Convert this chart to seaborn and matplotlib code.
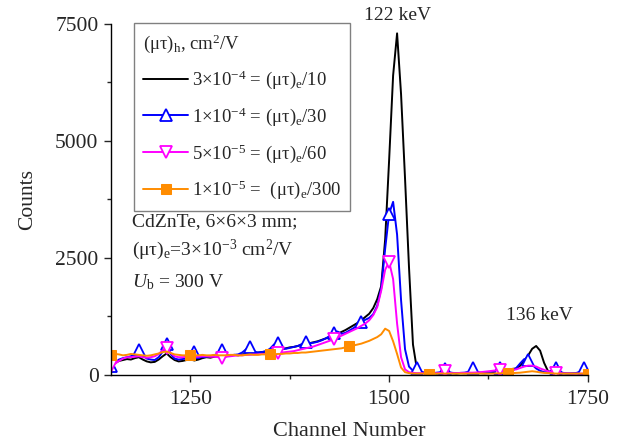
import numpy as np
import pandas as pd
import matplotlib
matplotlib.use("Agg")
import matplotlib.pyplot as plt
import seaborn as sns

# Channel grid (5-channel bins)
channels = list(range(1150, 1751, 5))

# (mu tau)_h = 3e-4
counts_black = [
    230, 260, 300, 320, 340, 330, 360, 380, 330, 290,
    270, 280, 330, 400, 460, 380, 320, 290, 300, 320,
    330, 310, 330, 360, 380, 370, 390, 400, 410, 400,
    420, 430, 420, 440, 450, 460, 470, 480, 490, 500,
    510, 520, 540, 550, 570, 590, 600, 620, 640, 660,
    680, 700, 720, 750, 780, 810, 850, 880, 920, 960,
    1010, 1060, 1110, 1170, 1240, 1310, 1430, 1620, 1900, 2900,
    4600, 6400, 7300, 6000, 4200, 2300, 650, 120, 50, 40,
    35, 40, 30, 35, 40, 45, 35, 30, 40, 35,
    40, 35, 45, 40, 35, 40, 45, 50, 60, 80,
    110, 130, 140, 200, 300, 420, 560, 620, 520, 260,
    80, 40, 35, 30, 35, 30, 30, 35, 30, 30,
    30,
]

# (mu tau)_h = 1e-4
counts_blue = [
    200, 260, 330, 360, 380, 400, 450, 530, 420, 350,
    330, 320, 380, 500, 660, 450, 350, 330, 340, 360,
    420, 490, 400, 380, 390, 400, 420, 470, 530, 440,
    420, 430, 440, 480, 550, 600, 500, 480, 490, 510,
    560, 650, 680, 580, 560, 580, 600, 620, 660, 700,
    680, 690, 710, 740, 780, 830, 900, 930, 880, 900,
    950, 1000, 1060, 1140, 1180, 1220, 1300, 1480, 1850, 2700,
    3450, 3700, 3000, 1600, 550, 180, 90, 150, 70, 50,
    40, 40, 50, 60, 130, 60, 45, 40, 45, 50,
    70, 160, 70, 50, 50, 55, 70, 90, 140, 80,
    70, 90, 150, 250, 340, 330, 220, 140, 90, 60,
    60, 100, 140, 70, 40, 35, 35, 40, 70, 140,
    50,
]

# (mu tau)_h = 5e-5
counts_magenta = [
    190, 240, 300, 350, 380, 380, 390, 400, 380, 370,
    380, 400, 450, 530, 580, 470, 400, 380, 380, 390,
    400, 390, 390, 400, 400, 390, 390, 380, 370, 390,
    400, 410, 420, 420, 430, 430, 440, 440, 450, 450,
    460, 470, 460, 480, 490, 500, 510, 530, 550, 570,
    590, 610, 640, 670, 700, 730, 760, 800, 840, 880,
    920, 960, 1000, 1050, 1100, 1170, 1280, 1450, 1800, 2250,
    2420, 2050, 1100, 380, 120, 60, 45, 40, 40, 35,
    35, 40, 40, 45, 90, 45, 40, 40, 45, 45,
    50, 50, 55, 60, 70, 80, 90, 100, 110, 100,
    100, 110, 120, 150, 180, 200, 200, 180, 140, 110,
    80, 60, 50, 40, 35, 35, 30, 30, 30, 30,
    30,
]

# (mu tau)_h = 1e-5
counts_orange = [
    430, 450, 440, 420, 430, 450, 440, 430, 420, 410,
    420, 440, 460, 490, 500, 470, 440, 430, 420, 420,
    430, 420, 420, 430, 420, 420, 430, 420, 420, 420,
    430, 430, 420, 420, 430, 440, 430, 430, 440, 440,
    450, 440, 450, 450, 460, 460, 470, 470, 480, 480,
    490, 500, 510, 520, 530, 540, 550, 560, 570, 590,
    610, 630, 650, 670, 700, 730, 770, 810, 870, 990,
    940, 720, 450, 160, 60, 40, 30, 30, 30, 30,
    30, 30, 30, 30, 30, 30, 30, 30, 30, 30,
    30, 30, 30, 30, 30, 30, 30, 35, 35, 40,
    40, 40, 45, 50, 60, 70, 80, 70, 55, 45,
    40, 35, 30, 30, 30, 30, 30, 30, 30, 30,
    30,
]

series_labels = [
    r"3×10$^{-4}$ = (μτ)$_{\mathrm{e}}$/10",
    r"1×10$^{-4}$ = (μτ)$_{\mathrm{e}}$/30",
    r"5×10$^{-5}$ = (μτ)$_{\mathrm{e}}$/60",
    r"1×10$^{-5}$ =  (μτ)$_{\mathrm{e}}$/300",
]

sns.set_style("ticks")
plt.rcParams["font.family"] = ["Liberation Serif", "DejaVu Serif"]
plt.rcParams["mathtext.fontset"] = "custom"
plt.rcParams["mathtext.rm"] = "Liberation Serif"
plt.rcParams["mathtext.it"] = "Liberation Serif:italic"
plt.rcParams["mathtext.bf"] = "Liberation Serif:bold"
plt.rcParams["font.size"] = 13.5

fig = plt.figure(figsize=(6.22, 4.42), dpi=100)
ax = fig.add_axes([0.1785, 0.1516, 0.7665, 0.7941])

styles = [
    dict(color="black", marker=None),
    dict(color="#0000ff", marker="^", markevery=7, markersize=8,
         markerfacecolor="white", markeredgecolor="#0000ff", markeredgewidth=1.3),
    dict(color="#ff00ff", marker="v", markevery=14, markersize=8,
         markerfacecolor="white", markeredgecolor="#ff00ff", markeredgewidth=1.3),
    dict(color="#ff8c00", marker="s", markevery=20, markersize=6.5,
         markerfacecolor="#ff8c00", markeredgecolor="#ff8c00"),
]
all_counts = [counts_black, counts_blue, counts_magenta, counts_orange]

for counts, label, st in zip(all_counts, series_labels, styles):
    df = pd.DataFrame({"channel": channels, "counts": counts})
    kw = {k: v for k, v in st.items() if v is not None}
    sns.lineplot(data=df, x="channel", y="counts", ax=ax, estimator=None,
                 linewidth=1.4, label=label, **kw)

ax.set_xlim(1150, 1750)
ax.set_ylim(0, 7500)
ax.set_xticks([1250, 1500, 1750])
ax.set_xticks([1375, 1625], minor=True)
ax.set_yticks([0, 2500, 5000, 7500])
ax.set_yticks([1250, 3750, 6250], minor=True)
ax.tick_params(which="major", length=5, width=1, direction="out",
               labelsize=15.5, pad=4)
ax.tick_params(axis="x", which="major", pad=6)
ax.tick_params(which="minor", length=3, width=1, direction="out")
sns.despine(ax=ax)
for sp in ("left", "bottom"):
    ax.spines[sp].set_linewidth(1.0)
    ax.spines[sp].set_color("black")

ax.set_xlabel("Channel Number", fontsize=16, labelpad=9)
ax.set_ylabel("Counts", fontsize=15.5, labelpad=13)

leg = ax.legend(title=r"(μτ)$_{\mathrm{h}}$, cm$^{2}$/V", loc="upper left",
                bbox_to_anchor=(0.048, 1.003), borderaxespad=0,
                frameon=True, fancybox=False, framealpha=1, edgecolor="#808080",
                handlelength=2.4, handletextpad=0.2, labelspacing=0.75,
                borderpad=0.5, fontsize=13.5, title_fontsize=13.5,
                alignment="left")
leg.get_frame().set_linewidth(1.0)

ax.text(0.044, 0.436, "CdZnTe, 6×6×3 mm;", transform=ax.transAxes,
        ha="left", va="center", fontsize=14)
ax.text(0.044, 0.356, r"(μτ)$_{\mathrm{e}}$=3×10$^{-3}$ cm$^{2}$/V",
        transform=ax.transAxes, ha="left", va="center", fontsize=14)
ax.text(0.044, 0.265, r"$U_{\mathrm{b}}$ = 300 V", transform=ax.transAxes,
        ha="left", va="center", fontsize=14)

ax.text(1511, 7690, "122 keV", ha="center", va="center", fontsize=14, clip_on=False)
ax.text(1689, 1280, "136 keV", ha="center", va="center", fontsize=14)

fig.savefig("out.png", dpi=100)
